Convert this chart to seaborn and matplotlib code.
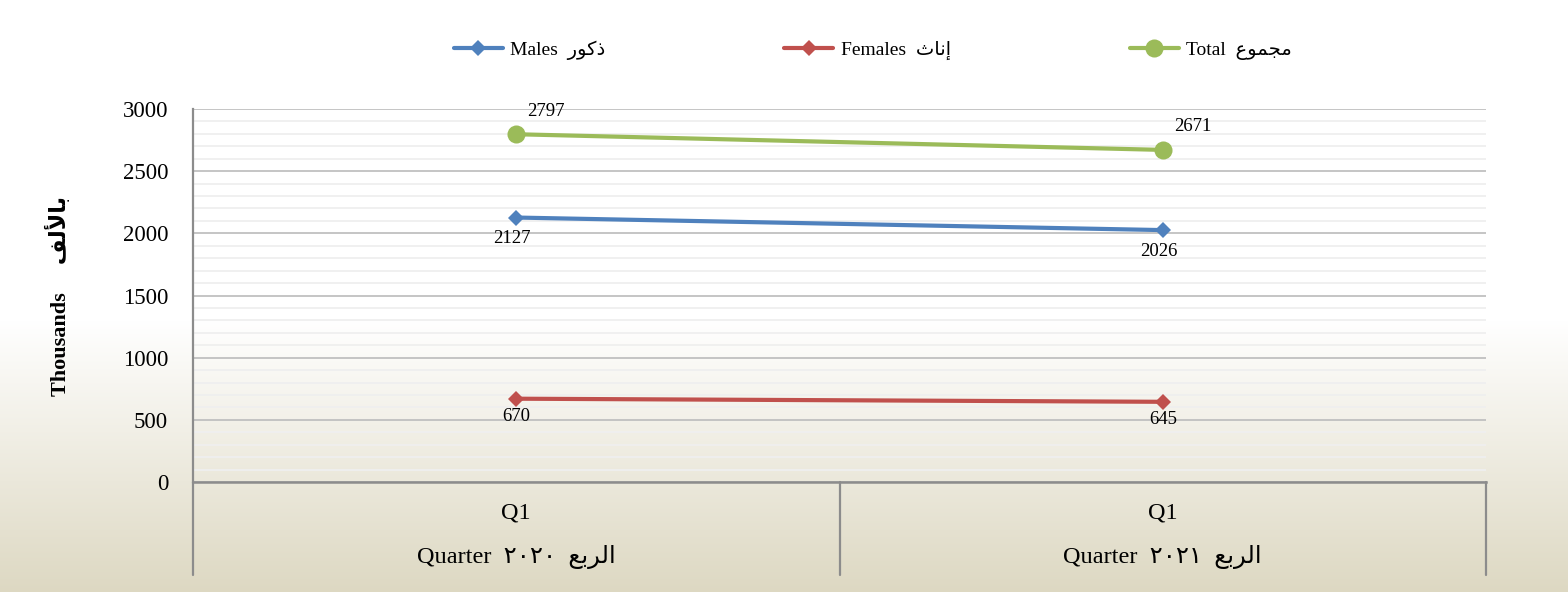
import numpy as np
import pandas as pd
import matplotlib
matplotlib.use("Agg")
import matplotlib.pyplot as plt
from matplotlib.lines import Line2D
from matplotlib.ticker import MultipleLocator
import seaborn as sns

# ---------------- data ----------------
periods = ["Q1 2020", "Q1 2021"]
quarter_labels = ["Q1", "Q1"]
# Arabic text given in pre-shaped visual order (presentation forms)
AR_RUB3 = "\uFECA\uFE91\uFEAE\uFEDF\uFE8D"          # الربع
year_labels = ["Quarter  \u0662\u0660\u0662\u0660  " + AR_RUB3,
               "Quarter  \u0662\u0660\u0662\u0661  " + AR_RUB3]
males = [2127, 2026]
females = [670, 645]
total = [2797, 2671]
series_names = ["Males  \uFEAD\uFEEE\uFEDB\uFEAB",      # ذكور
                "Females  \uFE99\uFE8E\uFEE7\uFE87",    # إناث
                "Total  \uFEC9\uFEEE\uFEE4\uFEA0\uFEE3"]  # مجموع
ylabel_text = "Thousands     \uFED2\uFEDF\uFEF7\uFE8E\uFE91"  # بالألف

colors = ["#4F81BD", "#C0504D", "#9BBB59"]
markers = ["D", "D", "o"]
msizes = [8, 8, 13]
label_offsets = [(-4, -21), (0, -18), (30, 23)]  # pixels

FAM = ["Liberation Serif", "DejaVu Sans"]

sns.set_theme(style="white")
plt.rcParams["font.family"] = FAM
plt.rcParams["text.color"] = "black"
plt.rcParams["ytick.color"] = "black"
plt.rcParams["xtick.color"] = "black"

fig = plt.figure(figsize=(15.68, 5.92), dpi=100)

# background gradient
bg = fig.add_axes([0, 0, 1, 1], zorder=-10)
H = 592
yy = np.arange(H)
t = np.clip((yy - 320) / (H - 320), 0, 1)
top = np.array([1.0, 1.0, 1.0])
bot = np.array([221, 216, 194]) / 255
grad = (1 - t)[:, None] * top + t[:, None] * bot
img = np.repeat(grad[:, None, :], 10, axis=1)
bg.imshow(img, aspect="auto", extent=[0, 1, 0, 1], origin="upper")
bg.axis("off")

L, R, T, B = 193, 1486, 109, 482
ax = fig.add_axes([L / 1568, 1 - B / 592, (R - L) / 1568, (B - T) / 592])
ax.set_facecolor("none")

all_series = [males, females, total]
for name, vals, c, m, ms, off in zip(series_names, all_series, colors, markers, msizes, label_offsets):
    df = pd.DataFrame({"period": periods, "value": vals})
    sns.lineplot(data=df, x="period", y="value", ax=ax, color=c, lw=3.0,
                 marker=m, markersize=ms, markeredgewidth=0, label=name,
                 sort=False, zorder=5)
    for i, v in enumerate(vals):
        ax.annotate(f"{v}", (i, v), xytext=off, textcoords="offset pixels",
                    ha="center", va="center", fontsize=13.5, color="black",
                    family=FAM, zorder=6)

ax.set_xlim(-0.5, 1.5)
ax.set_ylim(0, 3000)
ax.yaxis.set_major_locator(MultipleLocator(500))
ax.yaxis.set_minor_locator(MultipleLocator(100))
ax.grid(which="major", axis="y", color="#c0c0c0", lw=1.3, zorder=0)
ax.grid(which="minor", axis="y", color="#efefef", lw=1.3, zorder=0)
ax.grid(which="major", axis="x", visible=False)
ax.set_axisbelow(True)

for s in ["top", "right"]:
    ax.spines[s].set_visible(False)
ax.spines["left"].set_color("#8c8c8c")
ax.spines["left"].set_linewidth(1.6)
ax.spines["bottom"].set_color("#8c8c8c")
ax.spines["bottom"].set_linewidth(1.8)

ax.tick_params(axis="y", length=0, pad=18, labelsize=16.5, labelcolor="black")
ax.tick_params(axis="x", length=0, labelbottom=False)
for lab in ax.get_yticklabels():
    lab.set_family(FAM)

# category table below axis
xt = ax.get_xaxis_transform()
for xb in [-0.5, 0.5, 1.5]:
    ax.add_line(Line2D([xb, xb], [0, -(575 - B) / (B - T)], transform=xt,
                       color="#8c8c8c", lw=1.6, clip_on=False))
for i in range(len(periods)):
    ax.text(i, -(513 - B) / (B - T), quarter_labels[i], transform=xt,
            ha="center", va="center", fontsize=17.5, family=FAM)
    ax.text(i, -(557 - B) / (B - T), year_labels[i], transform=xt,
            ha="center", va="center", fontsize=17.5, family=FAM)

ax.set_xlabel("")
ax.set_ylabel("")
fig.text(58 / 1568, 1 - 296 / 592, ylabel_text, rotation=90, ha="center",
         va="center", fontsize=16, fontweight="bold", family=FAM)

leg = ax.legend(loc="center", bbox_to_anchor=(873 / 1568, 1 - 50 / 592),
                bbox_transform=fig.transFigure, ncol=3, frameon=False,
                handlelength=2.5, handletextpad=0.4, columnspacing=9.2,
                prop={"family": FAM, "size": 14})
for txt in leg.get_texts():
    txt.set_color("black")

fig.savefig("out.png", dpi=100)
